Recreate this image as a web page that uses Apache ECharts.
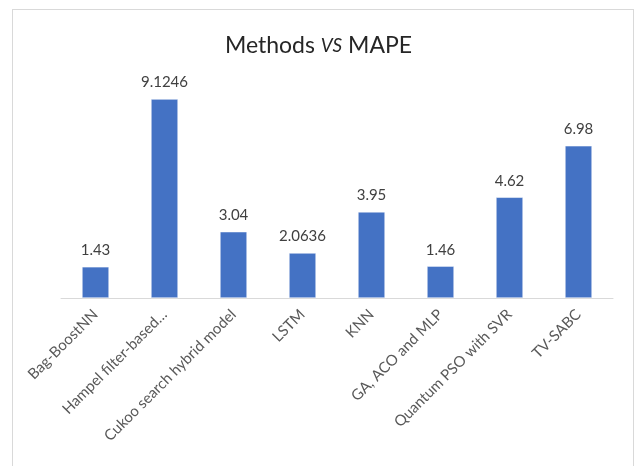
<!DOCTYPE html>
<html>
<head>
<meta charset="utf-8">
<script src="https://cdn.jsdelivr.net/npm/echarts@6/dist/echarts.min.js"></script>
<style>
  html, body { margin: 0; padding: 0; background: #fff; }
  #frame { position: absolute; left: 12px; top: 9px; width: 622px; height: 470px; border: 1px solid #d9d9d9; box-sizing: border-box; }
  #chart { position: absolute; left: 0; top: 0; width: 637px; height: 466px; }
</style>
</head>
<body>
<div id="frame"></div>
<div id="chart"></div>
<script>
// Methods compared by MAPE
const methods = [
  'Bag-BoostNN',
  'Hampel filter-based…',
  'Cukoo search hybrid model',
  'LSTM',
  'KNN',
  'GA, ACO and MLP',
  'Quantum PSO with SVR',
  'TV-SABC'
];
const mape = [1.43, 9.1246, 3.04, 2.0636, 3.95, 1.46, 4.62, 6.98];

const FONT = 'Lato, "Open Sans", sans-serif';
const chart = echarts.init(document.getElementById('chart'), null, { renderer: 'canvas' });

chart.setOption({
  backgroundColor: 'transparent',
  animation: false,
  title: {
    left: 'center',
    top: 29,
    text: '{a|Methods }{b|VS}{a| MAPE}',
    textStyle: {
      rich: {
        a: { fontFamily: FONT, fontSize: 23, fontWeight: 'normal', color: '#262626' },
        b: { fontFamily: FONT, fontSize: 19, fontStyle: 'italic', fontWeight: 'normal', color: '#262626' }
      }
    }
  },
  grid: { left: 61, right: 24, top: 80, bottom: 168 },
  xAxis: {
    type: 'category',
    data: methods,
    axisLine: { lineStyle: { color: '#d9d9d9', width: 1 } },
    axisTick: { show: false },
    axisLabel: {
      rotate: 45,
      interval: 0,
      margin: 14,
      color: '#595959',
      fontFamily: FONT,
      fontSize: 15
    }
  },
  yAxis: {
    type: 'value',
    min: 0,
    max: 10,
    show: false
  },
  series: [{
    type: 'bar',
    data: mape,
    barWidth: 27,
    itemStyle: { color: '#4472C4', borderColor: '#ffffff', borderWidth: 0.5 },
    label: {
      show: true,
      position: 'top',
      distance: 9,
      color: '#404040',
      fontFamily: FONT,
      fontSize: 15
    }
  }]
});
</script>
</body>
</html>
